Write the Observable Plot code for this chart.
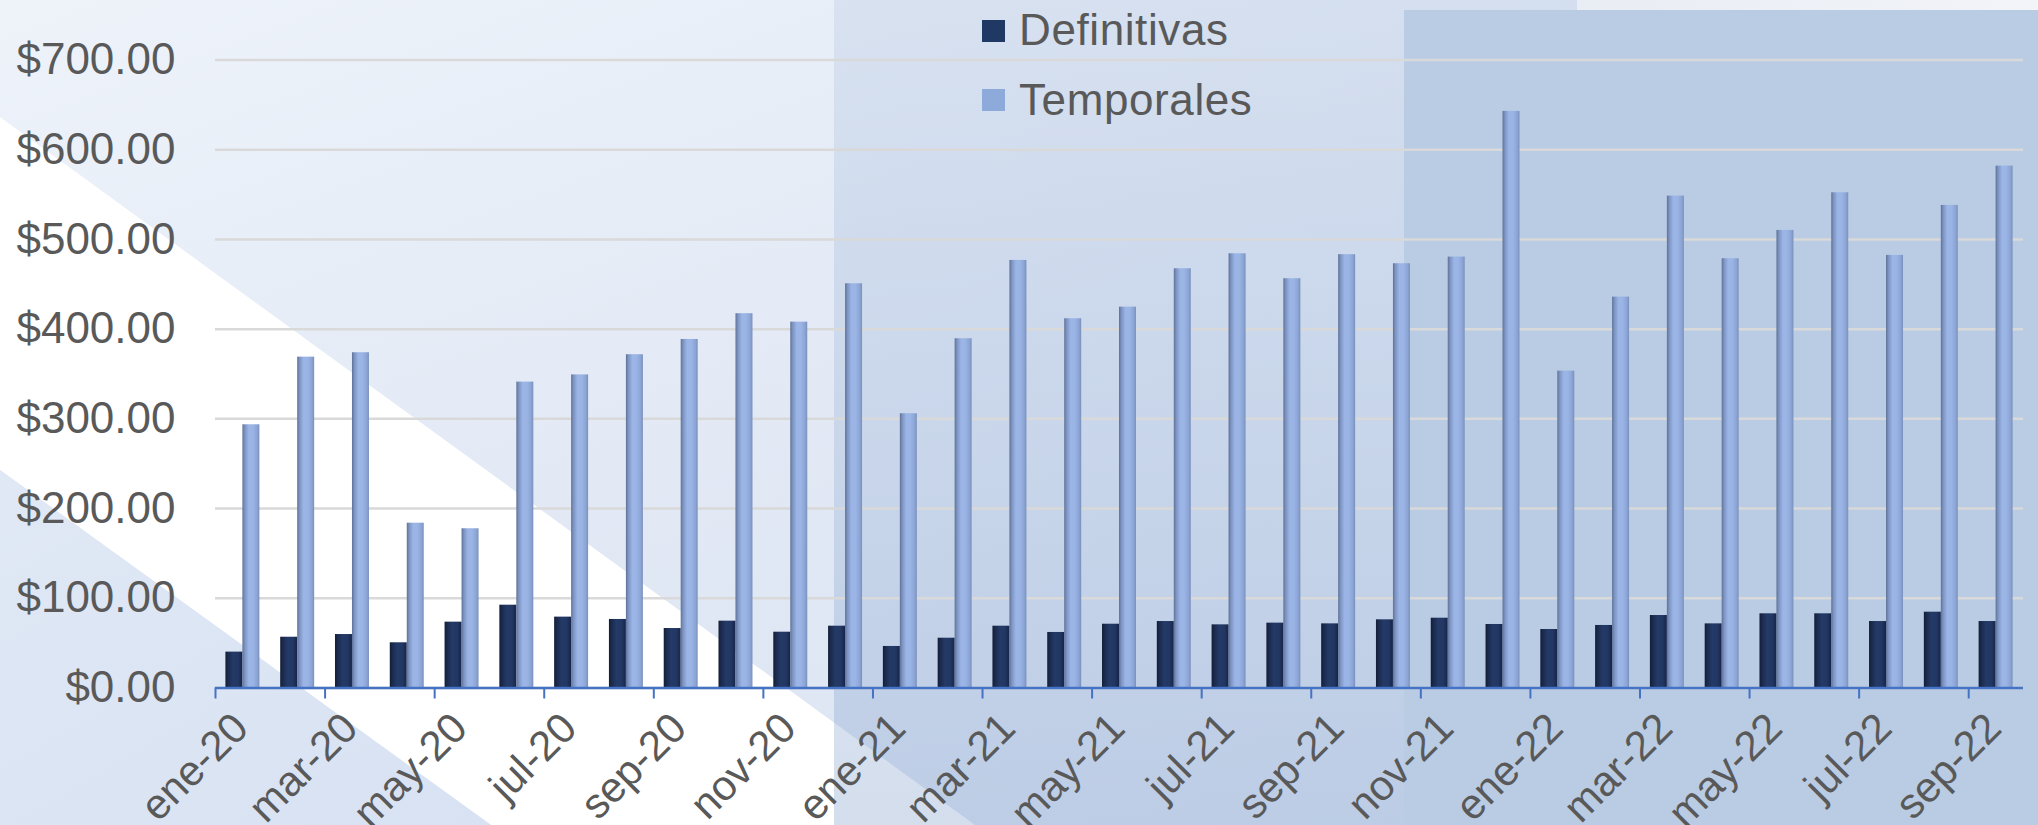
<!DOCTYPE html>
<html>
<head>
<meta charset="utf-8">
<script src="https://cdn.jsdelivr.net/npm/d3@7"></script>
<script src="https://cdn.jsdelivr.net/npm/@observablehq/plot@0.6"></script>
<style>
html, body { margin: 0; padding: 0; background: #fff; }
#wrap { position: relative; width: 2038px; height: 825px; overflow: hidden; font-family: "Liberation Sans", Arial, sans-serif; }
.bg { position: absolute; left: 0; top: 0; width: 2038px; height: 825px; }
#bg-base { background: linear-gradient(160deg, #eef3fa 0%, #e2e9f5 45%, #d9e3f2 100%); }
#bg-white { background: #ffffff; clip-path: polygon(0px 117px, 975px 825px, 491px 825px, 0px 470px); }
#bg-low { background: linear-gradient(150deg, #e7edf7 0%, #d6e1f2 60%, #d2def1 100%); clip-path: polygon(0px 470px, 491px 825px, 0px 825px); }
#bg-mid { position: absolute; left: 834px; top: 0; width: 1204px; height: 825px; background: linear-gradient(180deg, rgba(127,158,203,0.16) 0%, rgba(127,158,203,0.24) 50%, rgba(127,158,203,0.34) 100%); }
#bg-topright { position: absolute; left: 1577px; top: 0; width: 461px; height: 10px; background: linear-gradient(90deg, #e9edf4, #f2f4f8); }
#bg-right { position: absolute; left: 1404px; top: 10px; width: 634px; height: 815px; background: #b9cce4; }
#chart { position: absolute; left: 0; top: 0; }
#legend { position: absolute; left: 0; top: 0; }
.sq { position: absolute; width: 23px; height: 22px; }
.lt { position: absolute; font-size: 44px; line-height: 44px; letter-spacing: 0.6px; color: #595959; white-space: nowrap; }
</style>
</head>
<body>
<div id="wrap">
  <div class="bg" id="bg-base"></div>
  <div class="bg" id="bg-white"></div>
  <div class="bg" id="bg-low"></div>
  <div id="bg-mid"></div>
  <div id="bg-topright"></div>
  <div id="bg-right"></div>
  <div id="chart"></div>
  <div id="legend">
    <div class="sq" style="left:982px;top:20px;background:#1f3864"></div>
    <div class="lt" style="left:1019px;top:8px">Definitivas</div>
    <div class="sq" style="left:982px;top:89px;background:#8eaadb"></div>
    <div class="lt" style="left:1019px;top:78px">Temporales</div>
  </div>
</div>
<script>
const months = ["ene-20","feb-20","mar-20","abr-20","may-20","jun-20","jul-20","ago-20","sep-20","oct-20","nov-20","dic-20",
                "ene-21","feb-21","mar-21","abr-21","may-21","jun-21","jul-21","ago-21","sep-21","oct-21","nov-21","dic-21",
                "ene-22","feb-22","mar-22","abr-22","may-22","jun-22","jul-22","ago-22","sep-22"];
const definitivas = [40, 56.6, 59.6, 50.4, 73.4, 92.3, 79, 76.4, 66.3, 74.5, 62.2, 68.9,
                     46.3, 55.5, 68.9, 61.9, 71.1, 74.1, 70.4, 72.3, 71.5, 76, 77.8, 70.8,
                     65.2, 69.7, 80.8, 71.5, 82.7, 82.7, 74.1, 84.5, 74.1];
const temporales = [293.4, 368.8, 373.7, 183.7, 177.5, 341, 349, 371.5, 388.5, 417.2, 407.8, 450.6,
                    305.7, 389.3, 476.6, 411.6, 424.5, 467.3, 484, 456.2, 483, 472.9, 480.3, 642.7,
                    353.2, 435.7, 548.3, 478.5, 510, 552, 482.2, 537.9, 581.7];
const yTicks = [0, 100, 200, 300, 400, 500, 600, 700];
const series = ["Definitivas", "Temporales"];

const data = months.map((m, i) => ({i, m, def: definitivas[i], tem: temporales[i]}));
const tickIdx = months.map((m, i) => i).filter(i => i % 2 === 0);
const labelIdx = tickIdx.map(i => i + 0.5);

const chart = Plot.plot({
  width: 2038,
  height: 825,
  marginLeft: 215,
  marginRight: 15,
  marginTop: 59.5,
  marginBottom: 137.5,
  style: {background: "transparent", fontFamily: "'Liberation Sans', Arial, sans-serif", overflow: "visible"},
  x: {domain: [0, months.length], axis: null},
  y: {domain: [0, 700], axis: null},
  marks: [
    Plot.gridY(yTicks, {stroke: "#d9d9d9", strokeOpacity: 1, strokeWidth: 2.5}),
    Plot.axisY(yTicks, {tickSize: 0, tickPadding: 40, fontSize: 44, color: "#595959", label: null,
                        tickFormat: d => "$" + d.toFixed(2)}),
    Plot.rect(data, {x1: d => d.i + 0.19, x2: d => d.i + 0.5, y1: d => 0, y2: "def", fill: "url(#gDef)"}),
    Plot.rect(data, {x1: d => d.i + 0.5, x2: d => d.i + 0.81, y1: d => 0, y2: "tem", fill: "url(#gTem)"}),
    Plot.ruleY([0], {stroke: "#4472c4", strokeWidth: 2.5}),
    Plot.axisX(tickIdx, {tickSize: 11, tickFormat: () => "", stroke: "#4472c4", strokeWidth: 2, label: null}),
    Plot.text(labelIdx, {x: d => d, text: d => months[Math.floor(d)], frameAnchor: "bottom",
                         rotate: -45, textAnchor: "end", lineAnchor: "middle",
                         dx: -2, dy: 33, fontSize: 42, fill: "#595959"})
  ]
});

// gradient definitions for cylinder-like bars
const ns = "http://www.w3.org/2000/svg";
const defs = document.createElementNS(ns, "defs");
function grad(id, stops) {
  const g = document.createElementNS(ns, "linearGradient");
  g.setAttribute("id", id);
  g.setAttribute("x1", "0"); g.setAttribute("x2", "1");
  g.setAttribute("y1", "0"); g.setAttribute("y2", "0");
  stops.forEach(([o, c]) => {
    const s = document.createElementNS(ns, "stop");
    s.setAttribute("offset", o); s.setAttribute("stop-color", c);
    g.appendChild(s);
  });
  defs.appendChild(g);
}
grad("gDef", [["0%", "#131d35"], ["15%", "#1a2a4d"], ["45%", "#243a67"], ["75%", "#223762"], ["100%", "#16244a"]]);
grad("gTem", [["0%", "#5e7196"], ["14%", "#7d94c2"], ["38%", "#9bb5e6"], ["62%", "#9ab4e5"], ["86%", "#8ca5d5"], ["100%", "#7990bb"]]);
chart.insertBefore(defs, chart.firstChild);

document.getElementById("chart").appendChild(chart);
</script>
</body>
</html>
